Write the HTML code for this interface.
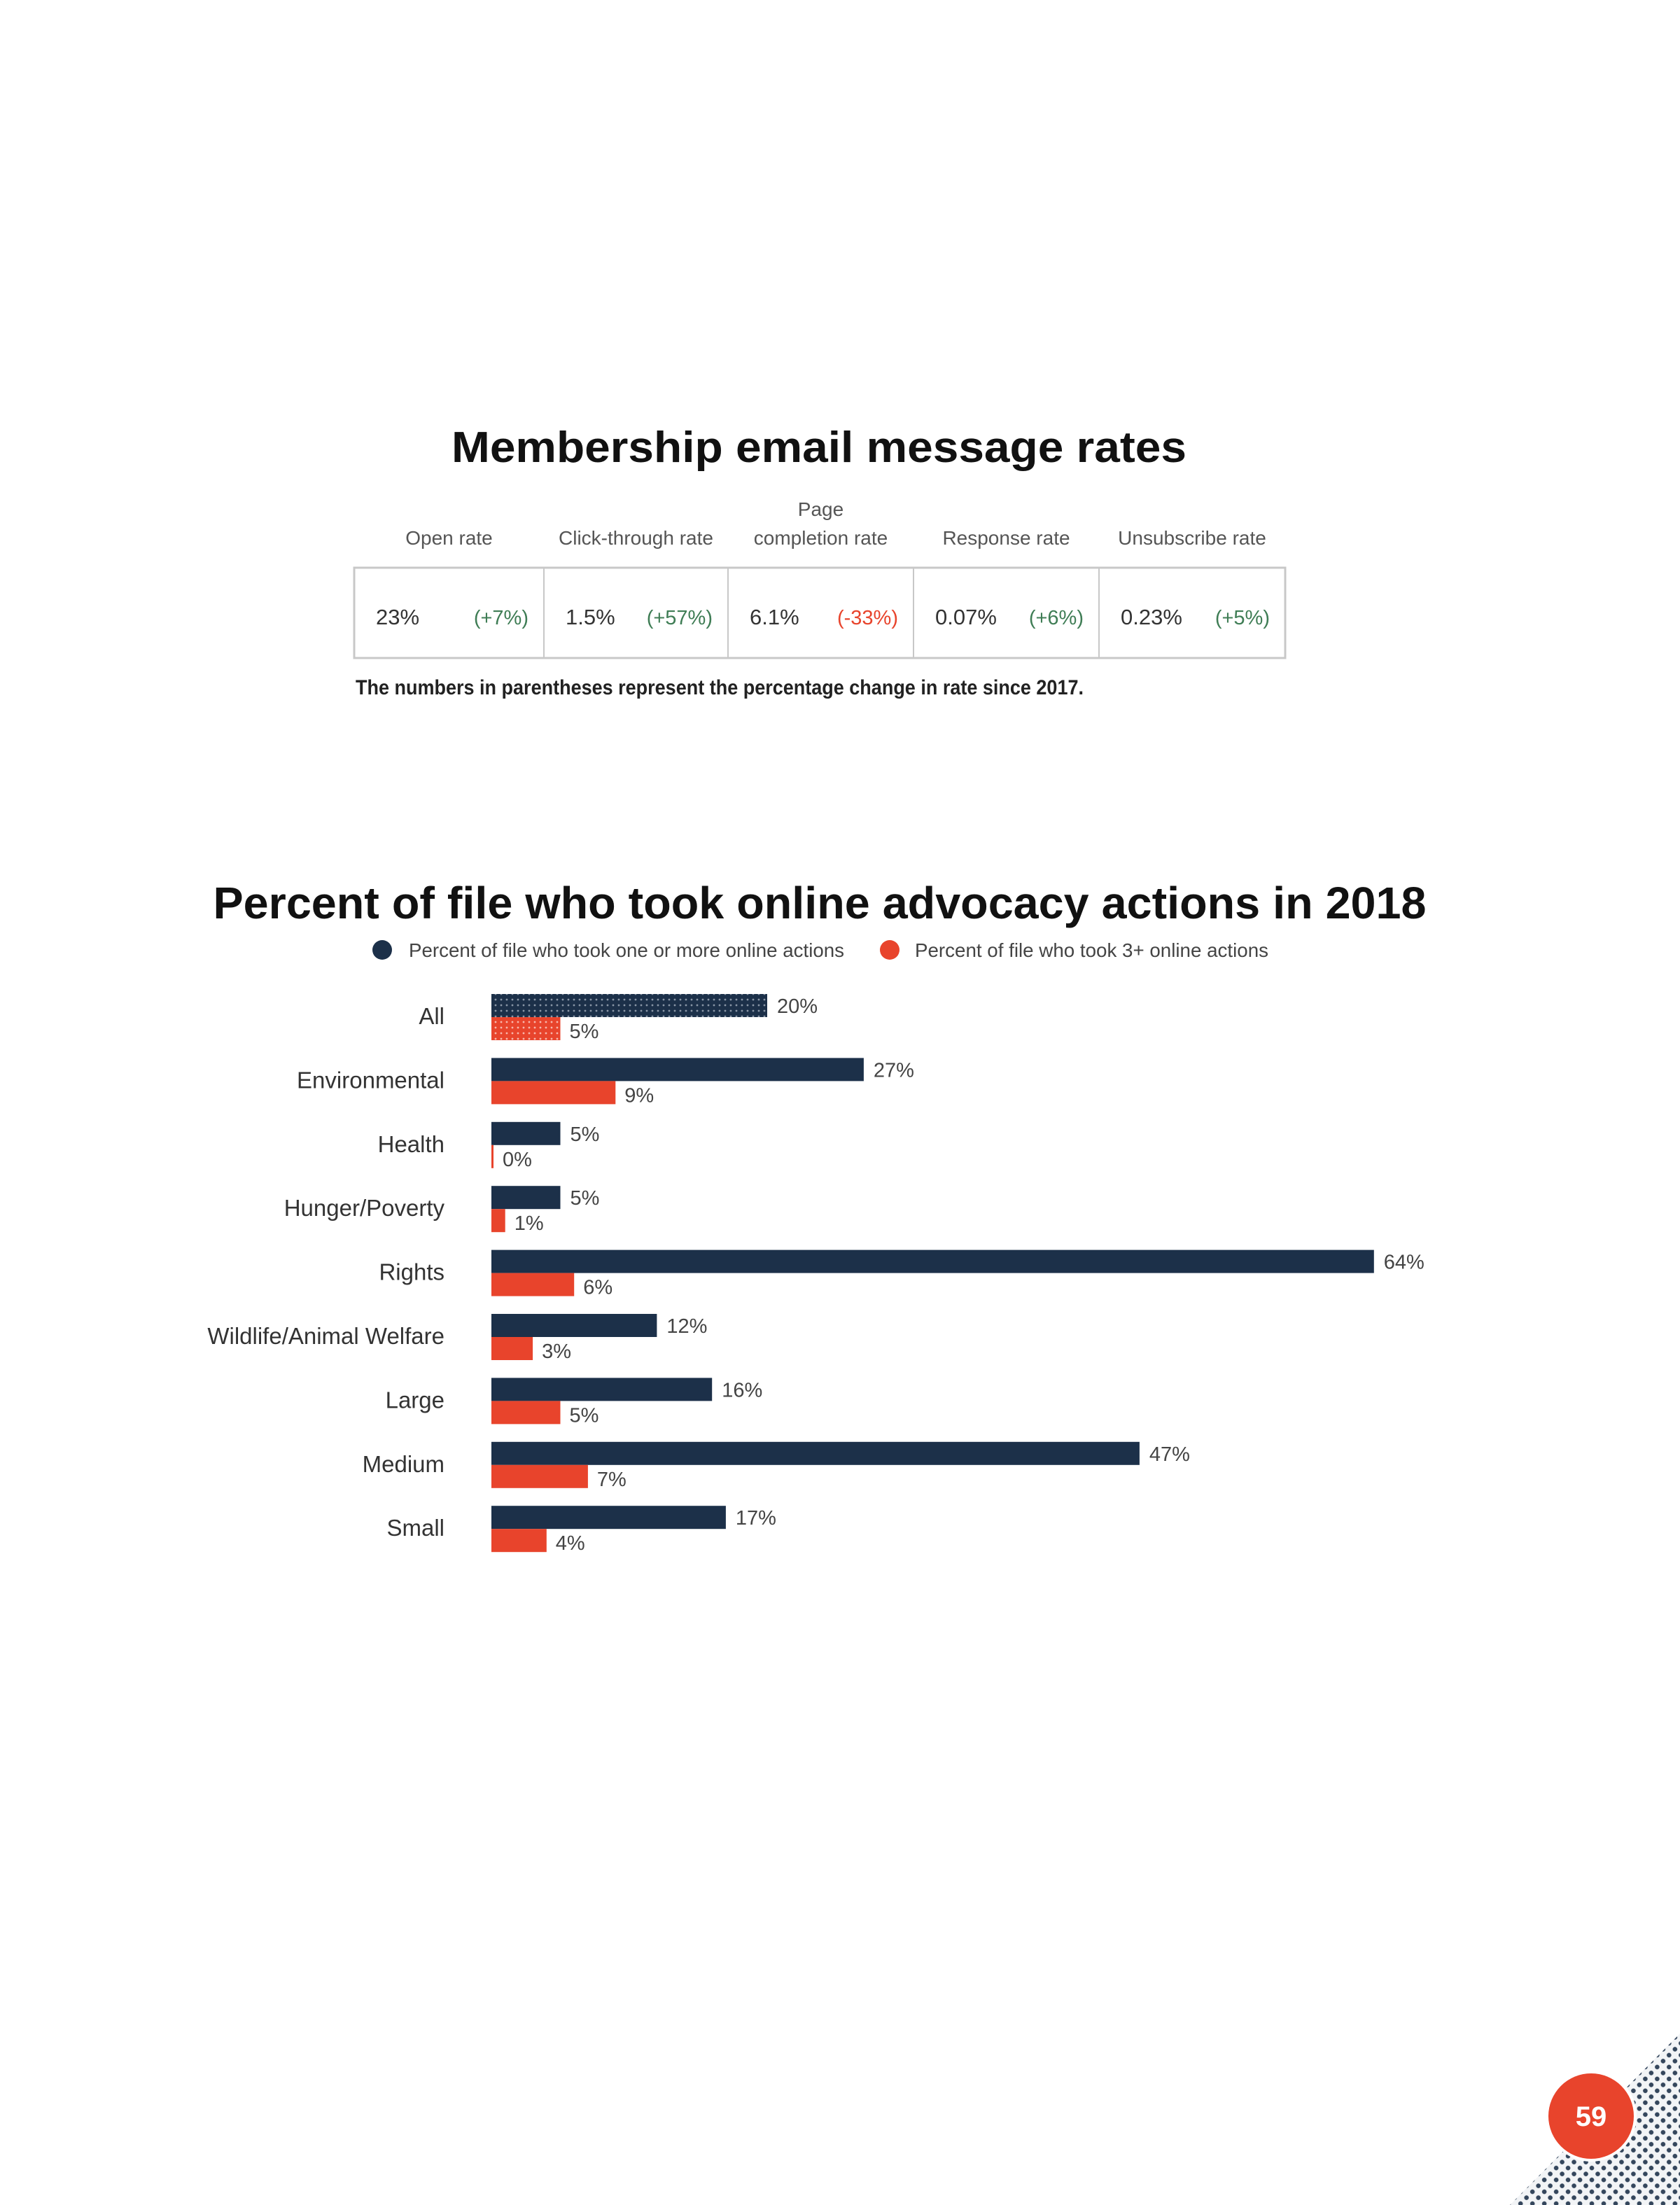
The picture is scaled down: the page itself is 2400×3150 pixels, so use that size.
<!DOCTYPE html>
<html><head><meta charset="utf-8"><style>
html,body{margin:0;padding:0;background:#fff;}
svg{display:block;}
text{font-family:"Liberation Sans Narrow","Liberation Sans",sans-serif;}
</style></head><body>
<svg id="page" width="2400" height="3150" viewBox="0 0 2400 3150" xmlns="http://www.w3.org/2000/svg">
<defs>
<pattern id="dotsDark" width="8" height="8" patternUnits="userSpaceOnUse"><rect width="8" height="8" fill="#1c3049"/><circle cx="4" cy="4" r="1.4" fill="#8a96a6"/></pattern>
<pattern id="dotsRed" width="8" height="8" patternUnits="userSpaceOnUse"><rect width="8" height="8" fill="#e8442c"/><circle cx="4" cy="4" r="1.4" fill="#f7b7ac"/></pattern>
<pattern id="halftone" width="12" height="12" patternUnits="userSpaceOnUse" patternTransform="rotate(45)"><rect width="12" height="12" fill="#f2f4f6"/><circle cx="6" cy="6" r="3.3" fill="#34465c"/></pattern>
</defs>
<rect width="2400" height="3150" fill="#fff"/>

<!-- Table section -->
<text x="1170" y="660" text-anchor="middle" font-family="Liberation Sans" font-weight="bold" font-size="62" textLength="1050" lengthAdjust="spacingAndGlyphs" fill="#111">Membership email message rates</text>
<g id="table"></g>
<text x="508" y="992" font-weight="bold" font-size="30" textLength="1040" lengthAdjust="spacingAndGlyphs" fill="#222">The numbers in parentheses represent the percentage change in rate since 2017.</text>

<!-- Chart section -->
<text x="1171" y="1312" text-anchor="middle" font-family="Liberation Sans" font-weight="bold" font-size="64" textLength="1733" lengthAdjust="spacingAndGlyphs" fill="#111">Percent of file who took online advocacy actions in 2018</text>
<g>
<circle cx="546" cy="1357" r="14" fill="#1c3049"/>
<text x="584" y="1367" font-size="28" fill="#444" textLength="622" lengthAdjust="spacingAndGlyphs">Percent of file who took one or more online actions</text>
<circle cx="1271" cy="1357" r="14" fill="#e8442c"/>
<text x="1307" y="1367" font-size="28" fill="#444" textLength="505" lengthAdjust="spacingAndGlyphs">Percent of file who took 3+ online actions</text>
</g>
<g id="bars"></g>

<!-- Page corner -->
<polygon points="2400,2905 2400,3150 2157,3150" fill="url(#halftone)"/>
<circle cx="2273" cy="3023" r="65" fill="#fff"/>
<circle cx="2273" cy="3023" r="61" fill="#e8442c"/>
<text x="2273" y="3037" text-anchor="middle" font-family="Liberation Sans" font-weight="bold" font-size="40" fill="#fff">59</text>
</svg>
<script>
// ---- table data ----
const tableHeaders = ["Open rate","Click-through rate","completion rate","Response rate","Unsubscribe rate"];
const tableValues = ["23%","1.5%","6.1%","0.07%","0.23%"];
const tableChanges = ["(+7%)","(+57%)","(-33%)","(+6%)","(+5%)"];
// ---- chart data ----
const categories = ["All","Environmental","Health","Hunger/Poverty","Rights","Wildlife/Animal Welfare","Large","Medium","Small"];
const oneOrMore = [20,27,5,5,64,12,16,47,17];
const threePlus = [5,9,0,1,6,3,5,7,4];

const NS = "http://www.w3.org/2000/svg";
function mk(tag, attrs, parent){const e=document.createElementNS(NS,tag);for(const k in attrs)e.setAttribute(k,attrs[k]);parent.appendChild(e);return e;}

// table
(function(){
  const g=document.getElementById('table');
  const colX=[506,777,1040,1305,1570,1836];
  const top=811,bot=940;
  const box=mk('rect',{x:colX[0],y:top,width:colX[5]-colX[0],height:bot-top,fill:'none',stroke:'#c8c8c8','stroke-width':3},g);
  
  
  for(let i=1;i<5;i++){
    const l=mk('line',{x1:colX[i],x2:colX[i],y1:top,y2:bot,stroke:'#c8c8c8','stroke-width':2},g);
    
    
  }
  const pg=mk('text',{x:(colX[2]+colX[3])/2,y:737,'text-anchor':'middle','font-size':28,fill:'#555'},g);
  pg.textContent="Page";
  
  
  tableHeaders.forEach((h,i)=>{
    const cx=(colX[i]+colX[i+1])/2;
    const t=mk('text',{x:cx,y:778,'text-anchor':'middle','font-size':28,fill:'#555'},g);
    t.textContent=h;
    
    
    const v=mk('text',{x:colX[i]+31,y:892,'font-size':31,fill:'#333'},g);
    v.textContent=tableValues[i];
    
    
    const c=mk('text',{x:colX[i+1]-22,y:892,'text-anchor':'end','font-size':29,fill:tableChanges[i].indexOf('-')>=0?'#e8442c':'#3f7d55'},g);
    c.textContent=tableChanges[i];
    
    
  });
})();

// bar chart
(function(){
  const g=document.getElementById('bars');
  const x0=702, pxPerPct=19.7, rowTop=1420, pitch=91.4, h=33;
  const xScale=v=>x0+v*pxPerPct;
  const yScale=i=>rowTop+i*pitch;
  categories.forEach((cat,i)=>{
    const y=yScale(i);
    const lab=mk('text',{x:635,y:y+43,'text-anchor':'end','font-size':33,fill:'#333'},g);
    lab.textContent=cat;
    
    
    const w1=Math.max(xScale(oneOrMore[i])-x0,2);
    const b1=mk('rect',{x:x0,y:y,width:w1,height:h,fill:i===0?'url(#dotsDark)':'#1c3049'},g);
    
    
    const w2=Math.max(xScale(threePlus[i])-x0,3);
    const b2=mk('rect',{x:x0,y:y+h,width:w2,height:h,fill:i===0?'url(#dotsRed)':'#e8442c'},g);
    
    
    const t1=mk('text',{x:x0+w1+14,y:y+27,'font-size':29,fill:'#444'},g);
    t1.textContent=oneOrMore[i]+'%';
    
    
    const t2=mk('text',{x:x0+w2+13,y:y+h+30,'font-size':29,fill:'#444'},g);
    t2.textContent=threePlus[i]+'%';
    
    
  });
})();
</script>
</body></html>
